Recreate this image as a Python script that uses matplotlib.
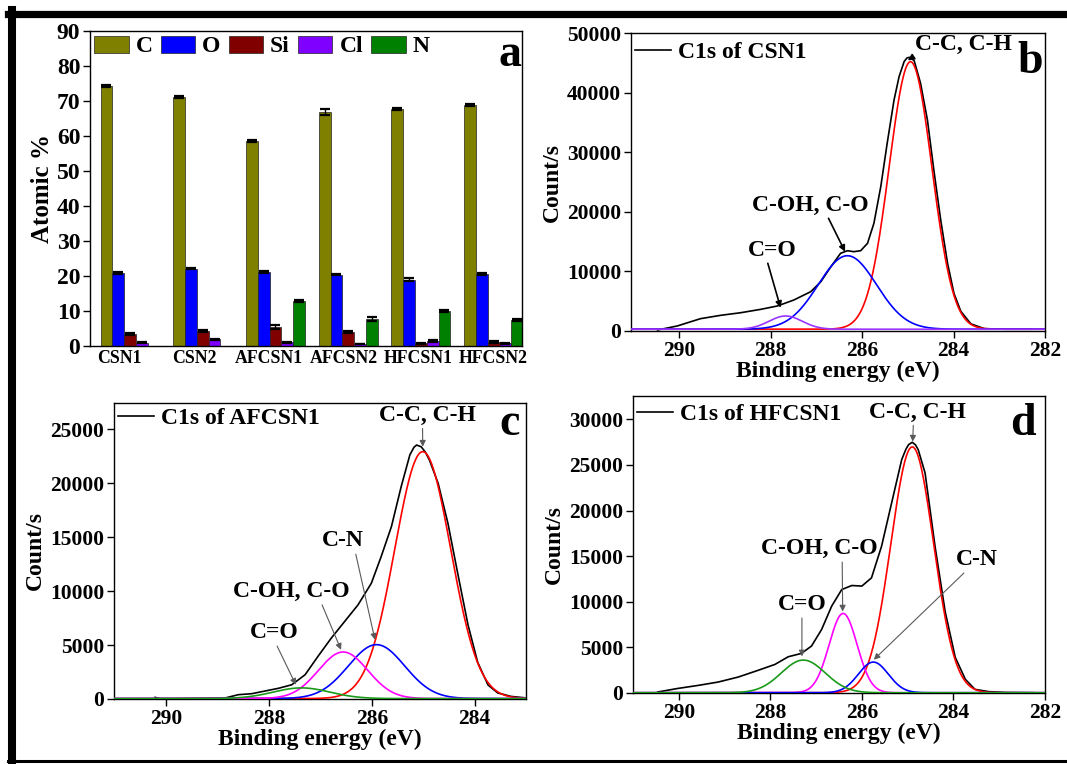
import numpy as np
import matplotlib.pyplot as plt
from matplotlib.lines import Line2D

plt.rcParams['font.family'] = 'Liberation Serif'
plt.rcParams['font.weight'] = 'bold'
plt.rcParams['axes.labelweight'] = 'bold'
plt.rcParams['axes.linewidth'] = 1.0

# ---- (a) surface composition from XPS survey ----
samples = ['CSN1', 'CSN2', 'AFCSN1', 'AFCSN2', 'HFCSN1', 'HFCSN2']
elements = ['C', 'O', 'Si', 'Cl', 'N']
atomic_C = [74.3, 71.2, 58.6, 66.8, 67.7, 68.9]
atomic_O = [20.9, 22.1, 21.2, 20.4, 19.0, 20.7]
atomic_Si = [3.4, 4.3, 5.5, 3.9, 0.8, 1.1]
atomic_Cl = [0.95, 1.9, 1.1, 0.6, 1.4, 0.8]
atomic_N = [np.nan, np.nan, 12.9, 7.7, 10.0, 7.4]
err_C = [0.3, 0.3, 0.3, 0.8, 0.2, 0.2]
err_O = [0.2, 0.2, 0.2, 0.2, 0.3, 0.3]
err_Si = [0.3, 0.3, 0.6, 0.3, 0.2, 0.2]
err_Cl = [0.1, 0.1, 0.1, 0.1, 0.2, 0.2]
err_N = [np.nan, np.nan, 0.3, 0.6, 0.2, 0.2]
bar_colors = ['#808000', '#0000ff', '#800000', '#8000ff', '#008000']

# ---- (b)-(d) C1s high resolution spectra ----
b_be = [290.47, 290.04, 289.53, 289.09, 288.65, 288.21, 287.85, 287.49, 287.12,
        286.90, 286.68, 286.47, 286.32, 286.18, 286.03, 285.88, 285.74, 285.59,
        285.45, 285.30, 285.19, 285.08, 285.02, 284.97, 284.92, 284.86, 284.72,
        284.57, 284.43, 284.28, 284.13, 283.99, 283.84, 283.62, 283.33, 282.90,
        282.30]
b_counts = [170, 840, 2070, 2630, 3070, 3640, 4200, 5200, 6600,
            8270, 10790, 13030, 13470, 13310, 13470, 14710, 18070, 24220,
            31490, 38760, 42670, 45190, 45800, 45920, 45700, 45360, 41560,
            35400, 27010, 18620, 11360, 6320, 3300, 1200, 400, 300,
            300]
b_names = ['C-C, C-H', 'C-OH, C-O', 'C=O']
b_center = [284.94, 286.32, 287.67]
b_height = [44880, 12330, 2220]
b_fwhm = [1.10, 1.50, 0.85]
b_colors = ['#ff0000', '#0000ff', '#9933ff']
b_base = 300

c_be = [290.22, 290.12, 289.89, 288.86, 288.60, 288.34, 288.08, 287.82, 287.56,
        287.30, 287.05, 286.79, 286.53, 286.27, 286.01, 285.82, 285.62, 285.43,
        285.26, 285.18, 285.13, 285.04, 284.96, 284.88, 284.71, 284.52, 284.33,
        284.13, 283.94, 283.74, 283.55, 283.29, 283.00]
c_counts = [150, 30, 30, 90, 400, 490, 740, 990, 1320,
            2250, 3950, 5650, 7190, 8730, 10740, 13200, 15980, 19690,
            22650, 23350, 23550, 23390, 22900, 22160, 20000, 16300, 11670,
            6900, 3400, 1300, 560, 240, 100]
c_names = ['C-C, C-H', 'C-N', 'C-OH, C-O', 'C=O']
c_center = [285.01, 285.91, 286.56, 287.37]
c_height = [22900, 5000, 4320, 990]
c_fwhm = [1.28, 1.29, 1.13, 1.30]
c_colors = ['#ff0000', '#0000ff', '#ff00ff', '#1a9a1a']
c_base = 40

d_be = [290.46, 290.02, 289.58, 289.14, 288.70, 288.27, 287.90, 287.61, 287.32,
        287.10, 286.88, 286.66, 286.44, 286.22, 286.00, 285.79, 285.57, 285.35,
        285.13, 285.04, 284.98, 284.90, 284.83, 284.77, 284.62, 284.40, 284.18,
        283.96, 283.74, 283.53, 283.23, 282.87, 282.25]
d_counts = [110, 500, 830, 1200, 1750, 2480, 3130, 3970, 4340,
            5150, 6960, 9520, 11340, 11780, 11720, 12620, 16090, 20840,
            25580, 26700, 27220, 27480, 27200, 26670, 24120, 16000, 8900,
            3900, 1500, 400, 150, 60, 30]
d_names = ['C-C, C-H', 'C-OH, C-O', 'C-N', 'C=O']
d_center = [284.90, 286.41, 285.75, 287.28]
d_height = [26940, 8690, 3360, 3580]
d_fwhm = [1.10, 0.72, 0.77, 1.13]
d_colors = ['#ff0000', '#ff00ff', '#0000ff', '#1a9a1a']
d_base = 30

W, H = 1067, 764
fig = plt.figure(figsize=(W / 100, H / 100), dpi=100)


def box(l, t, r, b):
    return [l / W, 1 - b / H, (r - l) / W, (b - t) / H]


ax_a = fig.add_axes(box(90, 31, 522, 346))
ax_b = fig.add_axes(box(631, 33, 1045, 331))
ax_c = fig.add_axes(box(114, 403, 526, 699))
ax_d = fig.add_axes(box(633, 396, 1045, 693))

# bar chart
n_el = len(elements)
width = 0.162
x = np.arange(len(samples))
series = [atomic_C, atomic_O, atomic_Si, atomic_Cl, atomic_N]
errors = [err_C, err_O, err_Si, err_Cl, err_N]
for i, (vals, errs) in enumerate(zip(series, errors)):
    pos = x + (i - (n_el - 1) / 2) * width
    vals = np.array(vals, dtype=float)
    errs = np.array(errs, dtype=float)
    ok = ~np.isnan(vals)
    ax_a.bar(pos[ok], vals[ok], width, color=bar_colors[i], edgecolor='#222222',
             linewidth=0.5, label=elements[i])
    ax_a.errorbar(pos[ok], vals[ok], yerr=errs[ok], fmt='none', ecolor='k',
                  elinewidth=1.0, capsize=3.5, capthick=1.6)

ax_a.set_xlim(-0.55, 5.39)
ax_a.set_ylim(0, 90)
ax_a.set_yticks(range(0, 91, 10))
ax_a.set_xticks(np.linspace(-0.14, 4.99, len(samples)))
ax_a.set_xticklabels(samples)
ax_a.tick_params(axis='x', length=0, labelsize=12.8, pad=3)
ax_a.tick_params(axis='y', direction='out', length=5, width=1, labelsize=17, pad=2)
ax_a.set_ylabel('Atomic %', fontsize=18, labelpad=2)
ax_a.legend(loc='upper left', bbox_to_anchor=(0.01, 0.985), ncol=5, frameon=False,
            fontsize=17, handlelength=1.45, handleheight=0.72, handletextpad=0.3,
            columnspacing=0.35, borderpad=0, borderaxespad=0)
ax_a.text(0.998, 0.889, 'a', transform=ax_a.transAxes, ha='right',
          va='baseline', fontsize=33)


def spectrum(ax, be, counts, centers, heights, fwhms, colors, base, xlim, ylim,
             yticks, legend_label, legend_y, letter, letter_pos):
    ax.plot(be, counts, color='k', lw=1.2, label=legend_label, zorder=2)
    grid = np.linspace(xlim[0], xlim[1], 800)
    for c0, h0, w0, col in zip(centers, heights, fwhms, colors):
        prof = base + h0 * np.exp(-4 * np.log(2) * (grid - c0) ** 2 / w0 ** 2)
        ax.plot(grid, prof, color=col, lw=1.2, zorder=3)
    ax.set_xlim(*xlim)
    ax.set_ylim(*ylim)
    ax.set_yticks(yticks)
    ax.set_xticks([t for t in (290, 288, 286, 284, 282) if min(xlim) <= t <= max(xlim)])
    ax.tick_params(direction='out', length=5, width=1, labelsize=15.5, pad=2)
    ax.set_xlabel('Binding energy (eV)', fontsize=17, labelpad=0)
    ax.set_ylabel('Count/s', fontsize=17, labelpad=3)
    ax.legend(loc='upper left', bbox_to_anchor=(0.01, legend_y), frameon=False,
              fontsize=17, handlelength=1.5, handletextpad=0.3, borderpad=0,
              borderaxespad=0)
    ax.text(letter_pos[0], letter_pos[1], letter, transform=ax.transAxes,
            ha='right', va='baseline', fontsize=33)


def note(ax, text, xytext, xy, rel, color, lw):
    ax.annotate(text, xy=xy, xytext=xytext, ha='center', va='center',
                fontsize=17, zorder=5,
                arrowprops=dict(arrowstyle='-|>', color=color, lw=lw,
                                mutation_scale=9, shrinkA=0, shrinkB=0,
                                relpos=rel))


spectrum(ax_b, b_be, b_counts, b_center, b_height, b_fwhm, b_colors, b_base,
         (291.05, 282), (0, 50000), range(0, 50001, 10000), 'C1s of CSN1', 0.97,
         'b', (0.995, 0.866))
note(ax_b, 'C-C, C-H', (283.78, 48150), (285.0, 45400), (0.05, 0.1), 'k', 1.2)
note(ax_b, 'C-OH, C-O', (287.12, 21140), (286.37, 13300), (0.64, 0.0), 'k', 1.2)
note(ax_b, 'C=O', (287.96, 13590), (287.78, 3900), (0.39, 0.0), 'k', 1.2)

spectrum(ax_c, c_be, c_counts, c_center, c_height, c_fwhm, c_colors, c_base,
         (291.02, 283.0), (0, 27450), range(0, 25001, 5000), 'C1s of AFCSN1', 0.985,
         'c', (0.985, 0.891))
note(ax_c, 'C-C, C-H', (284.92, 26320), (285.01, 23400), (0.45, 0.0), '0.35', 0.8)
note(ax_c, 'C-N', (286.57, 14660), (285.94, 5490), (0.8, 0.0), '0.35', 0.8)
note(ax_c, 'C-OH, C-O', (287.56, 9960), (286.6, 4560), (0.75, 0.0), '0.35', 0.8)
note(ax_c, 'C=O', (287.9, 6140), (287.48, 1320), (0.53, 0.0), '0.35', 0.8)

spectrum(ax_d, d_be, d_counts, d_center, d_height, d_fwhm, d_colors, d_base,
         (291.0, 282), (0, 32550), range(0, 30001, 5000), 'C1s of HFCSN1', 0.975,
         'd', (0.978, 0.869))
note(ax_d, 'C-C, C-H', (284.79, 30800), (284.89, 27550), (0.46, 0.0), '0.35', 0.8)
note(ax_d, 'C-OH, C-O', (286.94, 15800), (286.42, 8930), (0.70, 0.0), '0.35', 0.8)
note(ax_d, 'C=O', (287.31, 9670), (287.31, 4010), (0.5, 0.0), '0.35', 0.8)
note(ax_d, 'C-N', (283.48, 14600), (285.74, 3650), (0.25, 0.0), '0.35', 0.8)

# outer frame
fig.add_artist(Line2D([8 / W, 1], [1 - 13.5 / H, 1 - 13.5 / H], color='k', lw=5.2))
fig.add_artist(Line2D([12 / W, 12 / W], [1 - 10 / H, 1 - 762 / H], color='k', lw=5.8))
fig.add_artist(Line2D([8 / W, 1], [1 - 761 / H, 1 - 761 / H], color='k', lw=2.2))

fig.savefig('out.png', dpi=100)
